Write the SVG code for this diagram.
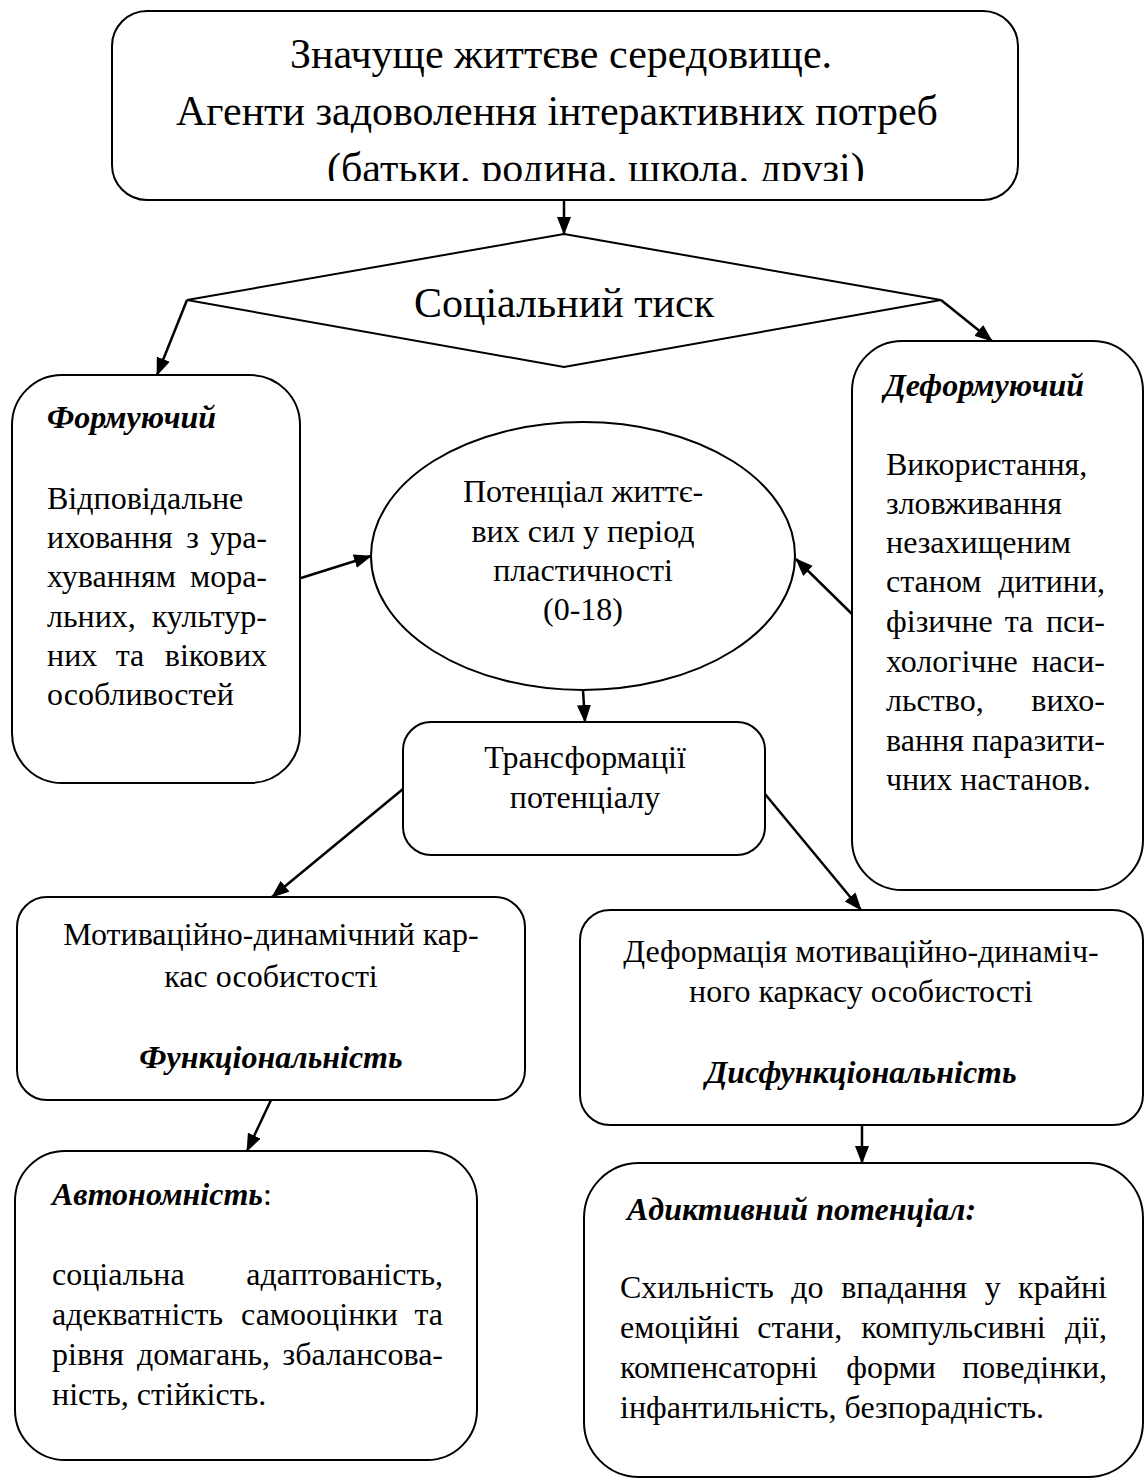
<svg xmlns="http://www.w3.org/2000/svg" width="1148" height="1479" viewBox="0 0 1148 1479">
<defs>
<style>
.box{fill:#fff;stroke:#000;stroke-width:2}
.t{font-family:"Liberation Serif","Times New Roman","DejaVu Serif",serif;font-size:32px;fill:#000}
.big{font-size:42px}
.bi{font-weight:bold;font-style:italic}
.c{text-anchor:middle}
.e{text-anchor:end}
.conn line{stroke:#000;stroke-width:2.5;marker-end:url(#ah)}
</style>
<marker id="ah" markerUnits="userSpaceOnUse" markerWidth="18" markerHeight="14" viewBox="0 0 18 14" refX="17" refY="7" orient="auto">
<path d="M0,0 L18,7 L0,14 Z" fill="#000"/>
</marker>
<clipPath id="clipTop"><rect x="112" y="0" width="906" height="181"/></clipPath>
</defs>
<rect width="1148" height="1479" fill="#fff"/>

<g id="connectors" class="conn">
<line x1="564" y1="200" x2="564" y2="234"/>
<line x1="187" y1="300" x2="157" y2="375"/>
<line x1="941" y1="300" x2="992" y2="341"/>
<line x1="301" y1="578" x2="371" y2="556"/>
<line x1="852" y1="614" x2="796" y2="559"/>
<line x1="583" y1="690" x2="585" y2="722"/>
<line x1="403" y1="789" x2="272" y2="897"/>
<line x1="765" y1="794" x2="861" y2="910"/>
<line x1="271" y1="1100" x2="247" y2="1151"/>
<line x1="862" y1="1125" x2="862" y2="1163"/>
</g>

<g id="top">
<rect class="box" x="112" y="11" width="906" height="189" rx="35"/>
<text class="t big c" x="561" y="68">Значуще життєве середовище.</text>
<text class="t big" x="176" y="125">Агенти задоволення інтерактивних потреб</text>
<text class="t big" x="327" y="182" clip-path="url(#clipTop)">(батьки, родина, школа, друзі)</text>
</g>

<g id="pressure">
<polygon class="box" points="564,234 941,300 564,367 187,300"/>
<text class="t big c" x="564" y="317">Соціальний тиск</text>
</g>

<g id="forming">
<rect class="box" x="12" y="375" width="288" height="408" rx="50"/>
<text class="t bi" x="47" y="428">Формуючий</text>
<text class="t" x="47" y="509">Відповідальне</text>
<text class="t" x="47" y="548">иховання</text><text class="t c" x="192.6" y="548">з</text><text class="t e" x="267" y="548">ура-</text>
<text class="t" x="47" y="587">хуванням</text><text class="t e" x="267" y="587">мора-</text>
<text class="t" x="47" y="627">льних,</text><text class="t e" x="267" y="627">культур-</text>
<text class="t" x="47" y="666">них</text><text class="t c" x="130" y="666">та</text><text class="t e" x="267" y="666">вікових</text>
<text class="t" x="47" y="705">особливостей</text>
</g>

<g id="deforming">
<rect class="box" x="852" y="341" width="291" height="549" rx="50"/>
<text class="t bi" x="884" y="396">Деформуючий</text>
<text class="t" x="886" y="475">Використання,</text>
<text class="t" x="886" y="514">зловживання</text>
<text class="t" x="886" y="553">незахищеним</text>
<text class="t" x="886" y="592">станом</text><text class="t e" x="1105" y="592">дитини,</text>
<text class="t" x="886" y="632">фізичне</text><text class="t c" x="1019" y="632">та</text><text class="t e" x="1105" y="632">пси-</text>
<text class="t" x="886" y="672">хологічне</text><text class="t e" x="1105" y="672">наси-</text>
<text class="t" x="886" y="711">льство,</text><text class="t e" x="1105" y="711">вихо-</text>
<text class="t" x="886" y="751">вання</text><text class="t e" x="1105" y="751">паразити-</text>
<text class="t" x="886" y="790">чних настанов.</text>
</g>

<g id="potential">
<ellipse class="box" cx="583" cy="556" rx="212" ry="134"/>
<text class="t c" x="583" y="502">Потенціал життє-</text>
<text class="t c" x="583" y="542">вих сил у період</text>
<text class="t c" x="583" y="581">пластичності</text>
<text class="t c" x="583" y="620">(0-18)</text>
</g>

<g id="transform">
<rect class="box" x="403" y="722" width="362" height="133" rx="28"/>
<text class="t c" x="585" y="768">Трансформації</text>
<text class="t c" x="585" y="808">потенціалу</text>
</g>

<g id="functional">
<rect class="box" x="17" y="897" width="508" height="203" rx="30"/>
<text class="t c" x="271" y="945">Мотиваційно-динамічний кар-</text>
<text class="t c" x="271" y="987">кас особистості</text>
<text class="t bi c" x="271" y="1068">Функціональність</text>
</g>

<g id="dysfunctional">
<rect class="box" x="580" y="910" width="563" height="215" rx="30"/>
<text class="t c" x="861" y="962">Деформація мотиваційно-динаміч-</text>
<text class="t c" x="861" y="1002">ного каркасу особистості</text>
<text class="t bi c" x="861" y="1083">Дисфункціональність</text>
</g>

<g id="autonomy">
<rect class="box" x="15" y="1151" width="462" height="309" rx="50"/>
<text class="t" x="52" y="1205"><tspan class="bi">Автономність</tspan>:</text>
<text class="t" x="52" y="1285">соціальна</text><text class="t e" x="443" y="1285">адаптованість,</text>
<text class="t" x="52" y="1325">адекватність</text><text class="t c" x="319.5" y="1325">самооцінки</text><text class="t e" x="443" y="1325">та</text>
<text class="t" x="52" y="1365">рівня</text><text class="t c" x="203.5" y="1365">домагань,</text><text class="t e" x="443" y="1365">збалансова-</text>
<text class="t" x="52" y="1405">ність, стійкість.</text>
</g>

<g id="addictive">
<rect class="box" x="584" y="1163" width="559" height="314" rx="55"/>
<text class="t bi" x="627" y="1220">Адиктивний потенціал:</text>
<text class="t" x="620" y="1298">Схильність</text><text class="t c" x="807.3" y="1298">до</text><text class="t c" x="904.1" y="1298">впадання</text><text class="t c" x="992.75" y="1298">у</text><text class="t e" x="1107" y="1298">крайні</text>
<text class="t" x="620" y="1338">емоційні</text><text class="t c" x="799.7" y="1338">стани,</text><text class="t c" x="953.5" y="1338">компульсивні</text><text class="t e" x="1107" y="1338">дії,</text>
<text class="t" x="620" y="1378">компенсаторні</text><text class="t c" x="891.1" y="1378">форми</text><text class="t e" x="1107" y="1378">поведінки,</text>
<text class="t" x="620" y="1418">інфантильність, безпорадність.</text>
</g>
</svg>
